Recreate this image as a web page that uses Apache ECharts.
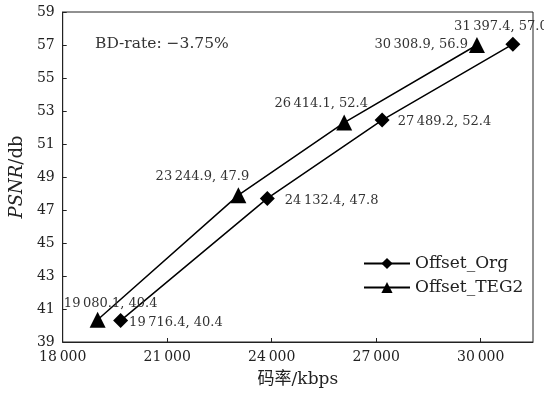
<!DOCTYPE html>
<html>
<head>
<meta charset="utf-8">
<script src="https://cdn.jsdelivr.net/npm/echarts@6/dist/echarts.min.js"></script>
<style>
	html, body { margin: 0; padding: 0; background: #fff; }
	#chart { width: 544px; height: 394px; }
</style>
</head>
<body>
<div id="chart"></div>
<script>
	// 数据
	var seriesNames = ['Offset_Org', 'Offset_TEG2'];
	var orgX = [19662, 23874, 27169, 30923];
	var orgY = [40.3, 47.7, 52.45, 57.05];
	var orgLabels = ['19\u2009716.4, 40.4', '24\u2009132.4, 47.8', '27\u2009489.2, 52.4', '31\u2009397.4, 57.0'];
	var tegX = [19003, 23043, 26080, 29891];
	var tegY = [40.35, 47.9, 52.3, 57.0];
	var tegLabels = ['19\u2009080.1, 40.4', '23\u2009244.9, 47.9', '26\u2009414.1, 52.4', '30\u2009308.9, 56.9'];
	var bdRateText = 'BD-rate: \u22123.75%';

	var serif = '"DejaVu Serif", "Liberation Serif", "Noto Sans CJK SC", serif';
	var cjk = '"DejaVu Serif", "Noto Sans CJK SC", serif';

	function thin(v) {
		var s = String(v);
		if (s.length > 3) {
			s = s.slice(0, s.length - 3) + '\u2009' + s.slice(s.length - 3);
		}
		return s;
	}

	// 每个点标签的位置
	var orgLabelPos = [
		{ position: 'right', offset: [-5, 2] },
		{ position: 'right', offset: [4, 2] },
		{ position: 'right', offset: [2, 2] },
		{ position: 'top', offset: [-12, 2] }
	];
	var tegLabelPos = [
		{ position: 'top', offset: [13, 4] },
		{ position: 'top', offset: [-36, 2] },
		{ position: 'top', offset: [-23, 2] },
		{ position: 'left', offset: [5, 0] }
	];

	function buildData(xs, ys, labels, pos) {
		return xs.map(function(x, i) {
			return {
				value: [x, ys[i]],
				label: {
					show: true,
					formatter: labels[i],
					position: pos[i].position,
					offset: pos[i].offset
				}
			};
		});
	}

	var chart = echarts.init(document.getElementById('chart'));
	var labelStyle = { fontFamily: serif, fontSize: 13, color: '#333', distance: 6 };

	var option = {
		animation: false,
		textStyle: { fontFamily: serif },
		grid: {
			left: 62, right: 11, top: 12, bottom: 52,
			show: true, borderColor: '#222', borderWidth: 1
		},
		legend: {
			left: 358, top: 250,
			orient: 'vertical',
			itemGap: 7,
			itemWidth: 46, itemHeight: 14,
			textStyle: { fontFamily: serif, fontSize: 17, color: '#222' },
			data: seriesNames
		},
		graphic: [{
			type: 'text',
			left: 95, top: 36,
			style: { text: bdRateText, font: '15.5px ' + serif, fill: '#333' }
		}],
		xAxis: {
			type: 'value',
			min: 18000, max: 31500, interval: 3000,
			name: '码率/kbps',
			nameLocation: 'middle',
			nameGap: 29,
			nameTextStyle: { fontFamily: cjk, fontSize: 17, color: '#222' },
			axisLine: { lineStyle: { color: '#222' } },
			axisTick: { inside: true, length: 4, lineStyle: { color: '#222' } },
			axisLabel: {
				showMaxLabel: false, margin: 8,
				fontFamily: serif, fontSize: 14, color: '#222',
				formatter: thin
			},
			splitLine: { show: false }
		},
		yAxis: {
			type: 'value',
			min: 39, max: 59, interval: 2,
			name: '{i|PSNR}/db',
			nameLocation: 'middle',
			nameGap: 34,
			nameRotate: 90,
			nameTextStyle: {
				fontFamily: serif, fontSize: 18, color: '#222',
				rich: { i: { fontFamily: serif, fontSize: 18, fontStyle: 'italic', color: '#222' } }
			},
			axisLine: { lineStyle: { color: '#222' } },
			axisTick: { inside: true, length: 4, lineStyle: { color: '#222' } },
			axisLabel: { margin: 8, fontFamily: serif, fontSize: 14, color: '#222' },
			splitLine: { show: false }
		},
		series: [{
			name: seriesNames[0],
			type: 'line',
			symbol: 'diamond',
			symbolSize: 15,
			itemStyle: { color: '#000' },
			lineStyle: { color: '#000', width: 1.5 },
			label: labelStyle,
			data: buildData(orgX, orgY, orgLabels, orgLabelPos)
		}, {
			name: seriesNames[1],
			type: 'line',
			symbol: 'triangle',
			symbolSize: 16,
			itemStyle: { color: '#000' },
			lineStyle: { color: '#000', width: 1.5 },
			label: labelStyle,
			data: buildData(tegX, tegY, tegLabels, tegLabelPos)
		}]
	};
	chart.setOption(option);
</script>
</body>
</html>
